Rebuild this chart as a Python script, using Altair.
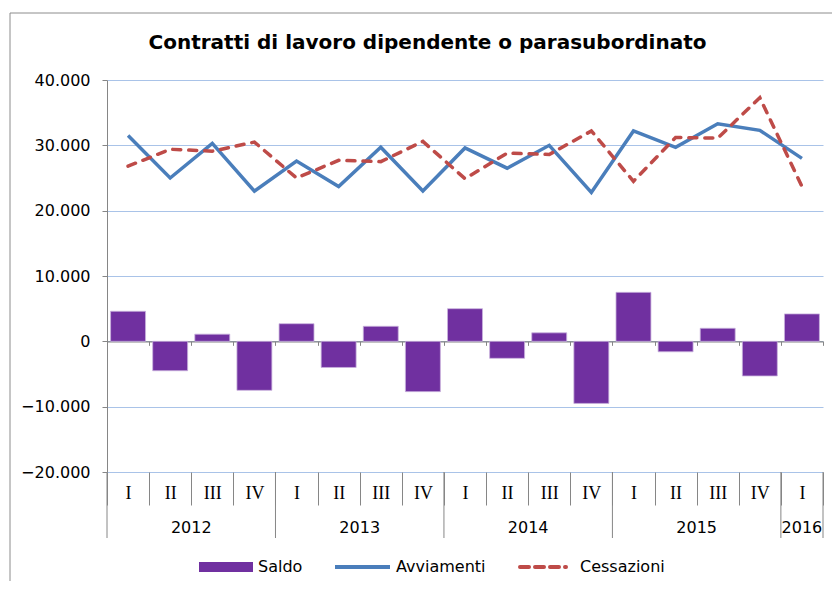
import altair as alt
import pandas as pd

# ---- data ----
years = [2012] * 4 + [2013] * 4 + [2014] * 4 + [2015] * 4 + [2016]
quarters = ["I", "II", "III", "IV"] * 4 + ["I"]
saldo = [4600, -4500, 1100, -7500, 2700, -4000, 2300, -7700, 5000,
         -2600, 1300, -9500, 7500, -1600, 2000, -5300, 4200]
avviamenti = [31500, 25000, 30300, 23000, 27600, 23700, 29700, 23000, 29600,
              26500, 30000, 22800, 32200, 29700, 33300, 32300, 28000]
cessazioni = [26800, 29400, 29100, 30500, 25000, 27700, 27500, 30600, 24900,
              28800, 28600, 32200, 24500, 31200, 31100, 37300, 23700]
y_ticks = [-20000, -10000, 0, 10000, 20000, 30000, 40000]
title_text = "Contratti di lavoro dipendente o parasubordinato"

keys = [f"{y}-{q}" for y, q in zip(years, quarters)]
df = pd.DataFrame({"key": keys, "year": years, "quarter": quarters,
                   "Saldo": saldo, "Avviamenti": avviamenti, "Cessazioni": cessazioni})

# year groups (derived from the years list)
yr_names, yr_start, yr_end = [], [], []
for i, y in enumerate(years):
    if not yr_names or yr_names[-1] != str(y):
        yr_names.append(str(y)); yr_start.append(i); yr_end.append(i + 1)
    else:
        yr_end[-1] = i + 1
yr_df = pd.DataFrame({"year": yr_names, "mid": [(a + b) / 2 for a, b in zip(yr_start, yr_end)]})
bound_df = pd.DataFrame({"b": sorted(set(yr_start + yr_end))})
one = pd.DataFrame({"a": [0]})

W, H = 716, 392
GRAY = "#868686"
FONT = "DejaVu Sans"
PURPLE = "#7030A0"
BLUE = "#4A7EBB"
RED = "#BE4B48"

xscale = alt.Scale(domain=keys, paddingInner=0, paddingOuter=0)
yscale = alt.Scale(domain=[-20000, 40000], nice=False, zero=False)
yaxis = alt.Axis(values=y_ticks, title=None, orient="left",
                 labelExpr="replace(format(datum.value, ','), ',', '.')",
                 grid=True, gridColor="#A9C3E8", gridWidth=1.2,
                 domainColor=GRAY, tickColor=GRAY, tickSize=5,
                 labelFont=FONT, labelFontSize=16, labelColor="#000000",
                 labelPadding=12)

bars = alt.Chart(df).mark_bar(color=PURPLE, stroke="#C9B3DD", strokeWidth=0.8,
                              width=alt.RelativeBandSize(0.83)).encode(
    x=alt.X("key:N", scale=xscale, sort=keys,
            axis=alt.Axis(title=None, labels=False, orient="bottom",
                          tickBand="extent", tickSize=4,
                          tickColor=GRAY, domainColor=GRAY, domainWidth=1.3,
                          grid=False, offset=-130.67)),
    y=alt.Y("Saldo:Q", scale=yscale, axis=yaxis),
)

line_a = alt.Chart(df).mark_line(color=BLUE, strokeWidth=3.5).encode(
    x=alt.X("key:N", scale=xscale, sort=keys,
            axis=alt.Axis(title=None, orient="bottom",
                          labelExpr="split(datum.value, '-')[1]",
                          labelFont="Liberation Serif", labelFontSize=18,
                          labelColor="#000000", labelAngle=0,
                          tickBand="extent", tickSize=33, tickColor=GRAY,
                          domain=False, grid=False, offset=0,
                          labelBaseline="middle", labelPadding=-12)),
    y=alt.Y("Avviamenti:Q", scale=yscale, axis=yaxis),
)

line_c = alt.Chart(df).mark_line(color=RED, strokeWidth=3.5, strokeDash=[8, 8],
                                 strokeCap="round").encode(
    x=alt.X("key:N", scale=xscale, sort=keys, axis=None),
    y=alt.Y("Cessazioni:Q", scale=yscale, axis=yaxis),
)

xq = alt.Scale(domain=[0, len(keys)], nice=False, zero=False)
year_text = alt.Chart(yr_df).mark_text(font=FONT, fontSize=16, color="#000000",
                                       baseline="middle", align="center").encode(
    x=alt.X("mid:Q", scale=xq, axis=None),
    y=alt.value(H + 56),
    text="year:N",
)
year_rules = alt.Chart(bound_df).mark_rule(color=GRAY, strokeWidth=1).encode(
    x=alt.X("b:Q", scale=xq, axis=None),
    y=alt.value(H),
    y2=alt.value(H + 66),
)

frame = alt.Chart(one).mark_rect(fillOpacity=0, stroke="#8C8C8C", strokeWidth=1).encode(
    x=alt.value(-97), x2=alt.value(800), y=alt.value(-67), y2=alt.value(600))

title = alt.Chart(one).mark_text(text=title_text, font=FONT, fontSize=20,
                                 fontWeight="bold", color="#000000",
                                 align="center", baseline="middle").encode(
    x=alt.value(320.5), y=alt.value(-37))

# legend (decorative)
LY = 487
leg_saldo = alt.Chart(one).mark_rect(color=PURPLE).encode(
    x=alt.value(92), x2=alt.value(146), y=alt.value(LY - 5), y2=alt.value(LY + 5))
leg_avv = alt.Chart(one).mark_rule(color=BLUE, strokeWidth=4).encode(
    x=alt.value(228), x2=alt.value(283), y=alt.value(LY))
leg_ces = alt.Chart(one).mark_rule(color=RED, strokeWidth=4, strokeDash=[9, 6],
                                   strokeCap="round").encode(
    x=alt.value(413), x2=alt.value(459), y=alt.value(LY))
leg_texts = [
    alt.Chart(one).mark_text(text=t, font=FONT, fontSize=16, color="#000000",
                             align="left", baseline="middle").encode(
        x=alt.value(px), y=alt.value(LY))
    for t, px in [("Saldo", 151), ("Avviamenti", 289), ("Cessazioni", 473)]
]

chart = alt.layer(
    frame, bars, line_a, line_c, year_rules, year_text, title,
    leg_saldo, leg_avv, leg_ces, *leg_texts
).resolve_scale(x="independent").resolve_axis(x="independent").properties(
    width=W, height=H,
    autosize=alt.AutoSizeParams(type="none"),
    padding={"left": 99, "top": 72, "right": 9, "bottom": 109},
).configure_view(strokeWidth=0)

chart.save("out.html", embed_options={"renderer": "svg", "actions": False})
